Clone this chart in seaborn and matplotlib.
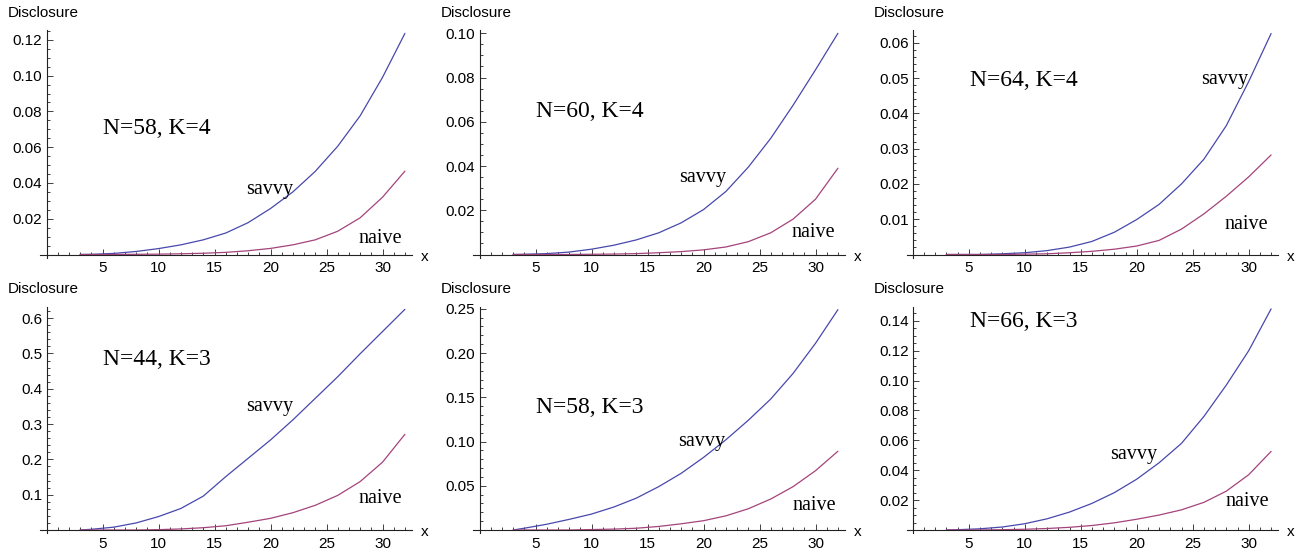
import matplotlib.pyplot as plt
import matplotlib.ticker as mticker
import seaborn as sns

# values
x = [3, 4, 6, 8, 10, 12, 14, 16, 18, 20, 22, 24, 26, 28, 30, 32]

savvy_58_4 = [0, 0.0001, 0.0006, 0.0017, 0.0033, 0.0054, 0.0082, 0.0120, 0.0178, 0.0257,
              0.0350, 0.0465, 0.0605, 0.0775, 0.0990, 0.1236]
naive_58_4 = [0, 0, 0, 0.0001, 0.0002, 0.0004, 0.0007, 0.0012, 0.0021, 0.0034,
              0.0054, 0.0082, 0.0130, 0.0205, 0.0320, 0.0466]
savvy_60_4 = [0, 0.0001, 0.0004, 0.0011, 0.0024, 0.0042, 0.0066, 0.0098, 0.0143, 0.0203,
              0.0285, 0.0395, 0.0525, 0.0675, 0.0835, 0.1000]
naive_60_4 = [0, 0, 0, 0, 0.0001, 0.0002, 0.0004, 0.0008, 0.0013, 0.0021,
              0.0034, 0.0058, 0.0098, 0.0160, 0.0250, 0.0390]
savvy_64_4 = [0, 0, 0, 0.0002, 0.0005, 0.0011, 0.0021, 0.0037, 0.0063, 0.0099,
              0.0142, 0.0200, 0.0270, 0.0365, 0.0490, 0.0626]
naive_64_4 = [0, 0, 0, 0, 0.0001, 0.0002, 0.0005, 0.0009, 0.0015, 0.0024,
              0.0040, 0.0072, 0.0115, 0.0165, 0.0220, 0.0282]
savvy_44_3 = [0, 0.002, 0.008, 0.020, 0.038, 0.061, 0.096, 0.151, 0.203, 0.255,
              0.312, 0.373, 0.434, 0.499, 0.562, 0.625]
naive_44_3 = [0, 0, 0, 0, 0.001, 0.003, 0.0065, 0.012, 0.022, 0.033,
              0.049, 0.070, 0.098, 0.137, 0.192, 0.271]
savvy_58_3 = [0, 0.002, 0.0065, 0.012, 0.018, 0.026, 0.036, 0.049, 0.064, 0.082,
              0.102, 0.124, 0.148, 0.177, 0.211, 0.249]
naive_58_3 = [0, 0, 0, 0, 0.0005, 0.001, 0.002, 0.004, 0.007, 0.0105,
              0.016, 0.024, 0.035, 0.049, 0.067, 0.089]
savvy_66_3 = [0, 0.0002, 0.0008, 0.002, 0.0042, 0.0075, 0.012, 0.0178, 0.025, 0.034,
              0.045, 0.058, 0.076, 0.097, 0.120, 0.148]
naive_66_3 = [0, 0, 0, 0.0002, 0.0005, 0.001, 0.0018, 0.003, 0.0048, 0.0072,
              0.0100, 0.0135, 0.0185, 0.0260, 0.0370, 0.0526]

titles = ["N=58, K=4", "N=60, K=4", "N=64, K=4", "N=44, K=3", "N=58, K=3", "N=66, K=3"]
savvy = [savvy_58_4, savvy_60_4, savvy_64_4, savvy_44_3, savvy_58_3, savvy_66_3]
naive = [naive_58_4, naive_60_4, naive_64_4, naive_44_3, naive_58_3, naive_66_3]
y_tops = [0.1255, 0.1015, 0.0636, 0.633, 0.2526, 0.1496]
y_steps = [0.02, 0.02, 0.01, 0.1, 0.05, 0.02]
y_fmt = ["%.2f", "%.2f", "%.2f", "%.1f", "%.2f", "%.2f"]

# label spots (data coords): title, savvy, naive
title_pos = [(9.87, 0.0707), (9.87, 0.0646), (9.9, 0.0494), (9.84, 0.4816), (9.87, 0.139), (9.9, 0.1393)]
savvy_pos = [(19.95, 0.0366), (19.9, 0.0346), (27.9, 0.0496), (19.95, 0.349), (19.85, 0.0996), (19.77, 0.0504)]
naive_pos = [(29.8, 0.0092), (29.8, 0.0098), (29.8, 0.0085), (29.8, 0.0898), (29.85, 0.0282), (29.85, 0.019)]

sns.set_theme(style="white")
plt.rcParams["font.family"] = ["Liberation Sans", "DejaVu Sans"]
plt.rcParams["text.color"] = "black"

blue = "#4848ad"
purple = "#a4437c"

W, H = 1305, 550
fig = plt.figure(figsize=(W / 100, H / 100), dpi=100)

axis_x = [46.5, 479.5, 912.7]
row_top = [30, 306.5]
row_zero = [254.5, 530]
px_per_unit = 11.2
xmin, xmax = -0.55, 32.6

for i in range(6):
    r, c = divmod(i, 3)
    left = axis_x[c] + xmin * px_per_unit
    width = (xmax - xmin) * px_per_unit
    top = row_top[r]
    bottom = row_zero[r] + 3
    ax = fig.add_axes([left / W, 1 - bottom / H, width / W, (bottom - top) / H])

    sns.lineplot(x=x, y=savvy[i], ax=ax, color=blue, linewidth=0.9)
    sns.lineplot(x=x, y=naive[i], ax=ax, color=purple, linewidth=0.9)

    ymax = y_tops[i]
    ax.set_xlim(xmin, xmax)
    ax.set_ylim(-ymax * 3 / (row_zero[r] - top), ymax)

    for s in ["top", "right"]:
        ax.spines[s].set_visible(False)
    ax.spines["left"].set_position(("data", 0))
    ax.spines["bottom"].set_position(("data", 0))
    for s in ["left", "bottom"]:
        ax.spines[s].set_linewidth(0.8)
        ax.spines[s].set_color("#222222")

    ax.xaxis.set_major_locator(mticker.FixedLocator([5, 10, 15, 20, 25, 30]))
    ax.xaxis.set_minor_locator(mticker.MultipleLocator(1))
    step = y_steps[i]
    n = int(ymax / step + 1e-9)
    ax.yaxis.set_major_locator(mticker.FixedLocator([step * k for k in range(1, n + 1)]))
    sub = 4 if str(step).rstrip("0")[-1] == "2" else 5
    ax.yaxis.set_minor_locator(mticker.MultipleLocator(step / sub))
    ax.yaxis.set_major_formatter(mticker.FormatStrFormatter(y_fmt[i]))

    ax.tick_params(axis="both", which="both", direction="in", width=0.6, color="#222222",
                   labelsize=11, labelcolor="black", bottom=True, left=True)
    ax.tick_params(axis="both", which="major", length=4)
    ax.tick_params(axis="both", which="minor", length=2.3)
    ax.tick_params(axis="x", which="major", pad=5)
    ax.tick_params(axis="y", which="major", pad=3)
    ax.set_xlabel("")
    ax.set_ylabel("")

    ax.annotate("Disclosure", xy=(0, 1), xycoords=ax.get_xaxis_transform(),
                xytext=(-2.5, 12.5), textcoords="offset points",
                ha="center", va="center", fontsize=11, color="black")
    ax.annotate("x", xy=(1, 0), xycoords=ax.get_yaxis_transform(),
                xytext=(9.5, -1.5), textcoords="offset points",
                ha="center", va="center", fontsize=11, color="black")

    serif = ["Liberation Serif", "DejaVu Serif"]
    ax.text(*title_pos[i], titles[i], family=serif, fontsize=17, ha="center", va="center", color="black")
    ax.text(*savvy_pos[i], "savvy", family=serif, fontsize=14.5, ha="center", va="center", color="black")
    ax.text(*naive_pos[i], "naive", family=serif, fontsize=14.5, ha="center", va="center", color="black")

fig.savefig("out.png", dpi=100)
